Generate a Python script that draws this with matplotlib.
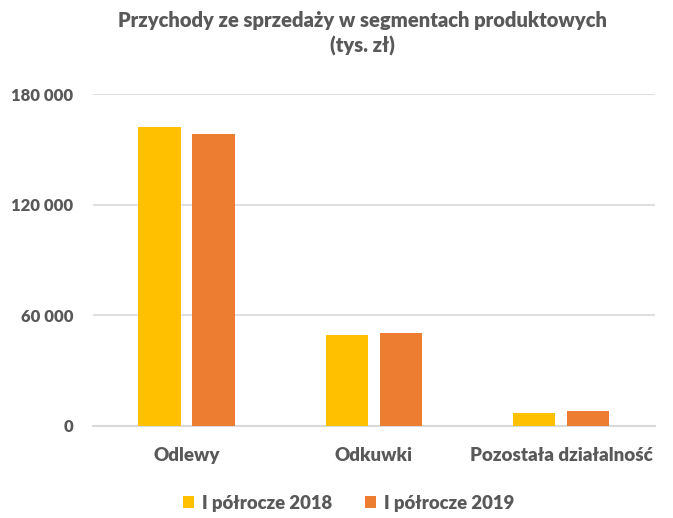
import numpy as np
import matplotlib.pyplot as plt
from matplotlib.ticker import FuncFormatter

# data (tys. zł)
categories = ['Odlewy', 'Odkuwki', 'Pozostała działalność']
h1_2018 = [162000, 49500, 7100]
h1_2019 = [158200, 50600, 8000]
series_names = ['I półrocze 2018', 'I półrocze 2019']

plt.rcParams['font.family'] = ['Lato', 'DejaVu Sans']
text_col = '#595959'
wt = 'heavy'

fig = plt.figure(figsize=(6.73, 5.18), dpi=100)
ax = fig.add_axes([0.138, 0.178, 0.835, 0.64])

x = np.arange(len(categories))
w = 0.225
off = 0.144
ax.bar(x - off, h1_2018, w, color='#ffc000', label=series_names[0], zorder=3)
ax.bar(x + off, h1_2019, w, color='#ed7d31', label=series_names[1], zorder=3)

ax.set_xlim(-0.5, 2.5)
ax.set_ylim(0, 180000)
ax.set_yticks([0, 60000, 120000, 180000])
ax.yaxis.set_major_formatter(FuncFormatter(lambda v, p: f'{int(v):,}'.replace(',', ' ')))
ax.grid(axis='y', color='#d9d9d9', lw=1.2, zorder=0)
ax.set_xticks(x)
ax.set_xticklabels(categories)

for s in ['top', 'right', 'left']:
    ax.spines[s].set_visible(False)
ax.spines['bottom'].set_color('#d9d9d9')
ax.spines['bottom'].set_linewidth(1.5)
ax.tick_params(axis='both', length=0, colors=text_col)
ax.tick_params(axis='y', labelsize=12, pad=14)
ax.tick_params(axis='x', labelsize=13.5, pad=15)
for lab in ax.get_xticklabels() + ax.get_yticklabels():
    lab.set_fontweight(wt)

fig.text(0.538, 0.978, 'Przychody ze sprzedaży w segmentach produktowych\n(tys. zł)',
         ha='center', va='top', fontsize=14.5, fontweight=wt, color=text_col,
         linespacing=1.35)

leg = fig.legend(loc='lower center', ncol=2, bbox_to_anchor=(0.518, -0.02), frameon=False,
                 handlelength=0.6, handleheight=0.6, handletextpad=0.4, columnspacing=1.8,
                 prop={'weight': wt, 'size': 13.3})
for t in leg.get_texts():
    t.set_color(text_col)

fig.savefig('out.png', dpi=100)
